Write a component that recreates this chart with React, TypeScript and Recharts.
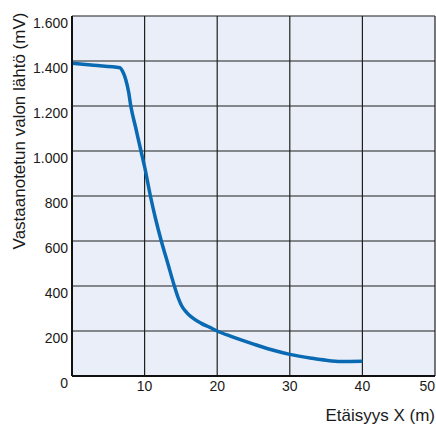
import { LineChart, Line, XAxis, YAxis, CartesianGrid, Label } from 'recharts';

const distance = [0, 3, 6.6, 7.0, 7.4, 7.8, 8.1, 8.8, 9.5, 10, 10.8, 11.5, 12.3, 13.2, 14.1, 14.6, 15.1, 15.8, 16.7, 17.8, 19, 20, 22, 25, 28, 30, 33, 35, 37, 40];
const output = [1390, 1381, 1370, 1352, 1318, 1262, 1200, 1100, 1000, 930, 800, 700, 600, 500, 400, 350, 312, 282, 256, 234, 216, 200, 175, 142, 112, 96, 79, 70, 65, 66];

const xTicks = [0, 10, 20, 30, 40, 50];
const yTicks = [0, 200, 400, 600, 800, 1000, 1200, 1400, 1600];

const data = distance.map((d, i) => ({ x: d, mv: output[i] }));

const font = '"Liberation Sans", Arial, Helvetica, sans-serif';
const textColor = '#1a1a1a';

// finnish style thousands separator: 1.600
const fmt = (v: number) => v.toLocaleString('de-DE');

const XTick = ({ x, y, payload }: any) => {
  if (payload.value === 0) return null;
  const last = payload.value === xTicks[xTicks.length - 1];
  return (
    <text
      x={last ? x : x}
      y={y + 15}
      textAnchor={last ? 'end' : 'middle'}
      fontSize={14}
      fontFamily={font}
      fill={textColor}
    >
      {payload.value}
    </text>
  );
};

const YTick = ({ x, y, payload }: any) => (
  <text x={x} y={y + 12} textAnchor="end" fontSize={14} fontFamily={font} fill={textColor}>
    {fmt(payload.value)}
  </text>
);

export default function App() {
  return (
    <div style={{ position: 'absolute', left: 0, top: 0, background: '#fff' }}>
      <LineChart width={436} height={426} data={data} margin={{ top: 16, right: 1, bottom: 20, left: 12 }}>
        <CartesianGrid fill="#e9eef8" stroke="#1f1f1f" strokeWidth={1.2} strokeOpacity={1} />
        <XAxis
          dataKey="x"
          type="number"
          domain={[0, 50]}
          ticks={xTicks}
          interval={0}
          height={30}
          tickSize={0}
          tickMargin={0}
          tick={<XTick />}
          axisLine={{ stroke: '#111', strokeWidth: 2 }}
        >
          <Label
            content={() => (
              <text x={435} y={421} textAnchor="end" fontSize={17} fontFamily={font} fill={textColor}>
                Etäisyys X (m)
              </text>
            )}
          />
        </XAxis>
        <YAxis
          type="number"
          domain={[0, 1600]}
          ticks={yTicks}
          interval={0}
          width={60}
          tickSize={0}
          tickMargin={4}
          tick={<YTick />}
          axisLine={{ stroke: '#111', strokeWidth: 2 }}
        >
          <Label
            content={() => (
              <text
                transform="translate(25,131) rotate(-90)"
                textAnchor="middle"
                fontSize={17}
                fontFamily={font}
                fill={textColor}
              >
                Vastaanotetun valon lähtö (mV)
              </text>
            )}
          />
        </YAxis>
        <Line
          type="monotone"
          dataKey="mv"
          stroke="#0a69b3"
          strokeWidth={3.5}
          dot={false}
          isAnimationActive={false}
        />
      </LineChart>
    </div>
  );
}
